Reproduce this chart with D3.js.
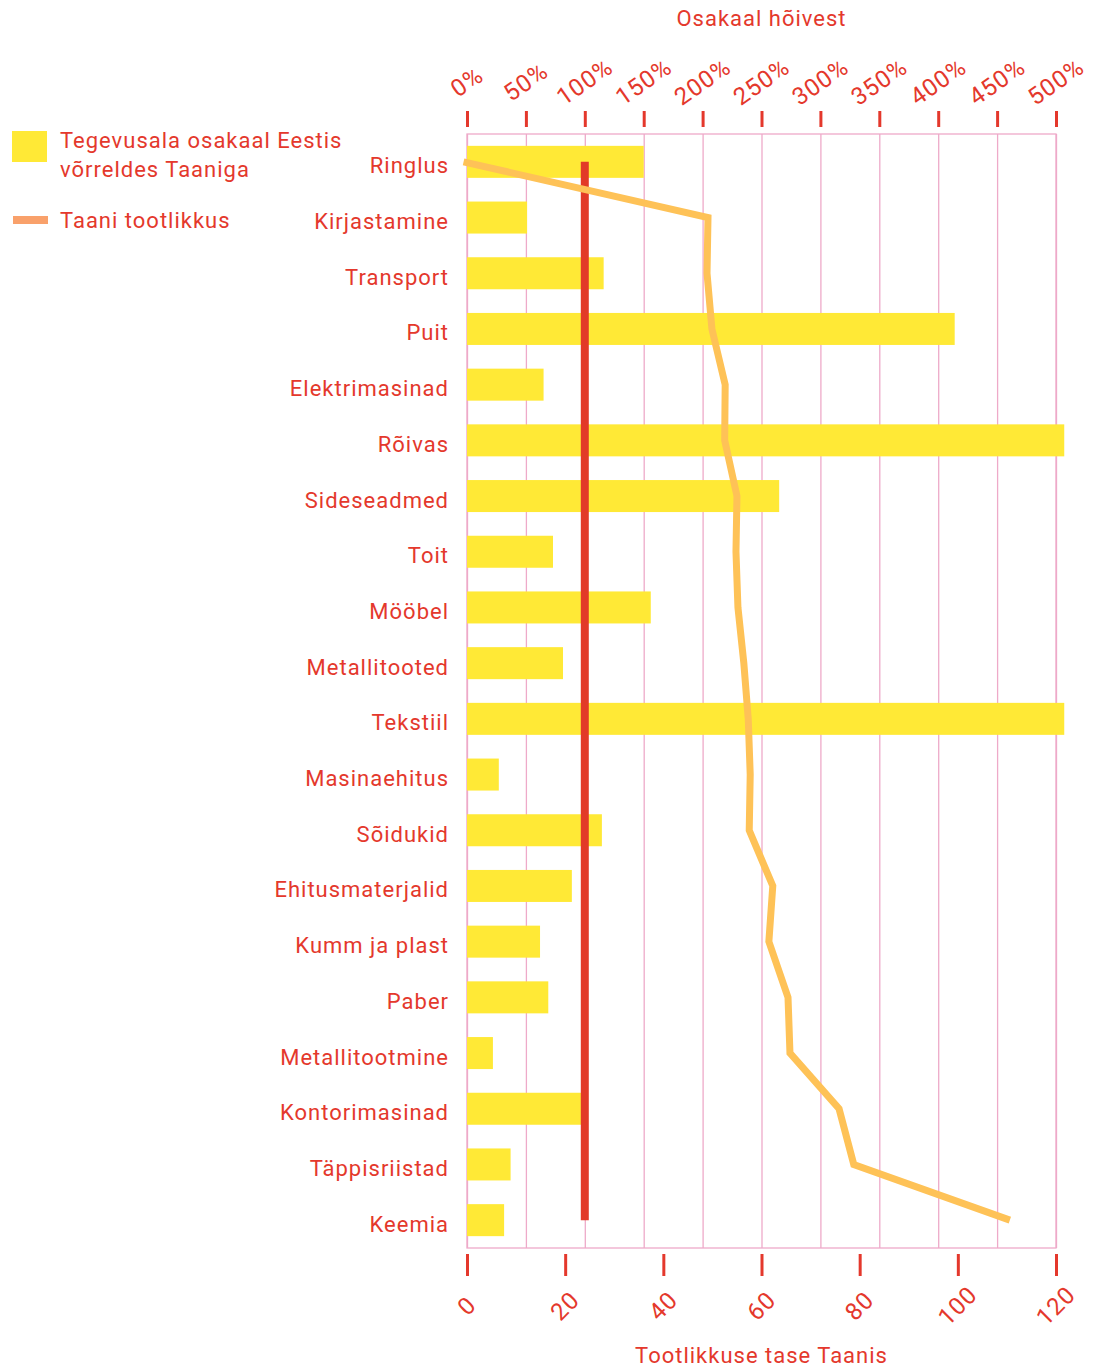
<!DOCTYPE html>
<html>
<head>
<meta charset="utf-8">
<script src="https://cdn.jsdelivr.net/npm/d3@7"></script>
<style>
  body { margin: 0; background: #fff; }
  svg text { font-family: Roboto, "Open Sans", sans-serif; fill: #e4382c; letter-spacing: 1px; }
</style>
</head>
<body>
<svg id="chart"></svg>
<script>
// categories (top to bottom)
var categories = ['Ringlus', 'Kirjastamine', 'Transport', 'Puit', 'Elektrimasinad', 'Rõivas',
  'Sideseadmed', 'Toit', 'Mööbel', 'Metallitooted', 'Tekstiil', 'Masinaehitus', 'Sõidukid',
  'Ehitusmaterjalid', 'Kumm ja plast', 'Paber', 'Metallitootmine', 'Kontorimasinad',
  'Täppisriistad', 'Keemia'];

// Tegevusala osakaal Eestis võrreldes Taaniga (%), top axis
var shareValues = [150, 51, 116, 414, 65, 507, 265, 73, 156, 81.5, 507, 27, 114.5, 89,
  62, 69, 22, 97.5, 37, 31.5];

// Taani tootlikkus, bottom axis
var productivity = [-0.7, 49.1, 48.9, 49.9, 52.6, 52.5, 55, 54.8, 55.2, 56.4, 57.3, 57.7,
  57.5, 62.3, 61.5, 65.4, 65.8, 75.8, 78.8, 110.6];

var shareTicks = [0, 50, 100, 150, 200, 250, 300, 350, 400, 450, 500];
var prodTicks = [0, 20, 40, 60, 80, 100, 120];
var refShare = 100; // vertical reference line

var legendLabels = [['Tegevusala osakaal Eestis', 'võrreldes Taaniga'], ['Taani tootlikkus']];

drawChart();

function drawChart(){
    var W = 1093, H = 1369;
    var left = 467, right = 1056, top = 134, bottom = 1248;
    var red = '#e4382c', pink = '#eeaac9';

    var svg = d3.select('#chart').attr('width', W).attr('height', H);

    var xTop = d3.scaleLinear().domain([0, 500]).range([left, right]);
    var xBot = d3.scaleLinear().domain([0, 120]).range([left, right]);
    var y = d3.scalePoint().domain(categories).range([top, bottom]).padding(0.5);

    // grid lines
    svg.append('g')
        .attr('transform', 'translate(0,' + top + ')')
        .call(d3.axisBottom(xTop).tickValues(shareTicks).tickSize(bottom - top).tickFormat(''))
        .call(function(g){
            g.select('.domain').remove();
            g.selectAll('line').attr('stroke', pink).attr('stroke-width', 1.3);
        });
    svg.append('rect')
        .attr('x', left).attr('y', top)
        .attr('width', right - left).attr('height', bottom - top)
        .attr('fill', 'none').attr('stroke', pink).attr('stroke-width', 1.3);

    // top axis
    var topAxis = svg.append('g')
        .attr('transform', 'translate(0,127)')
        .call(d3.axisTop(xTop).tickValues(shareTicks).tickSize(16).tickFormat(''));
    topAxis.select('.domain').remove();
    topAxis.selectAll('line').attr('stroke', red).attr('stroke-width', 3);
    svg.append('g').selectAll('text')
        .data(shareTicks)
      .enter().append('text')
        .attr('transform', function(d){ return 'translate(' + xTop(d) + ',82) rotate(-35)'; })
        .attr('text-anchor', 'middle')
        .attr('dominant-baseline', 'central')
        .style('font-size', '24px')
        .text(function(d){ return d + '%'; });
    svg.append('text')
        .attr('x', (left + right) / 2).attr('y', 26)
        .attr('text-anchor', 'middle')
        .style('font-size', '22px')
        .text('Osakaal hõivest');

    // bottom axis
    var botAxis = svg.append('g')
        .attr('transform', 'translate(0,1254)')
        .call(d3.axisBottom(xBot).tickValues(prodTicks).tickSize(22).tickFormat(''));
    botAxis.select('.domain').remove();
    botAxis.selectAll('line').attr('stroke', red).attr('stroke-width', 3);
    svg.append('g').selectAll('text')
        .data(prodTicks)
      .enter().append('text')
        .attr('transform', function(d){ return 'translate(' + xBot(d) + ',1306) rotate(-45)'; })
        .attr('text-anchor', 'middle')
        .attr('dominant-baseline', 'central')
        .style('font-size', '24px')
        .text(function(d){ return d; });
    svg.append('text')
        .attr('x', (left + right) / 2).attr('y', 1363)
        .attr('text-anchor', 'middle')
        .style('font-size', '22px')
        .text('Tootlikkuse tase Taanis');

    // category labels
    var yAxis = svg.append('g')
        .attr('transform', 'translate(' + left + ',0)')
        .call(d3.axisLeft(y).tickSize(0).tickPadding(18));
    yAxis.select('.domain').remove();
    yAxis.selectAll('text')
        .attr('dy', null)
        .attr('y', 11)
        .style('font-size', '22px')
        .style('font-family', 'Roboto, sans-serif')
        .attr('fill', red);

    // bars
    var barH = 32;
    svg.append('g').selectAll('rect')
        .data(categories)
      .enter().append('rect')
        .attr('x', xTop(0))
        .attr('y', function(d){ return y(d) - barH / 2; })
        .attr('width', function(d, i){ return xTop(shareValues[i]) - xTop(0); })
        .attr('height', barH)
        .attr('fill', '#ffe936');

    // reference line at 100%
    svg.append('line')
        .attr('x1', xTop(refShare)).attr('x2', xTop(refShare))
        .attr('y1', y(categories[0])).attr('y2', y(categories[categories.length - 1]))
        .attr('stroke', '#e23a28').attr('stroke-width', 8);

    // productivity line
    var line = d3.line()
        .x(function(d, i){ return xBot(d); })
        .y(function(d, i){ return y(categories[i]); });
    svg.append('path')
        .datum(productivity)
        .attr('d', line)
        .attr('fill', 'none')
        .attr('stroke', '#fec257')
        .attr('stroke-width', 7)
        .attr('stroke-linejoin', 'miter');

    // legend
    var legend = svg.append('g');
    legend.append('rect')
        .attr('x', 12).attr('y', 131).attr('width', 35).attr('height', 31)
        .attr('fill', '#ffe936');
    legend.append('text')
        .attr('x', 60).attr('y', 148)
        .style('font-size', '22px')
        .selectAll('tspan')
        .data(legendLabels[0])
      .enter().append('tspan')
        .attr('x', 60)
        .attr('dy', function(d, i){ return i ? 29 : 0; })
        .text(function(d){ return d; });
    legend.append('line')
        .attr('x1', 13).attr('x2', 48).attr('y1', 220).attr('y2', 220)
        .attr('stroke', '#f9a16b').attr('stroke-width', 8);
    legend.append('text')
        .attr('x', 60).attr('y', 228)
        .style('font-size', '22px')
        .text(legendLabels[1][0]);
}
</script>
</body>
</html>
